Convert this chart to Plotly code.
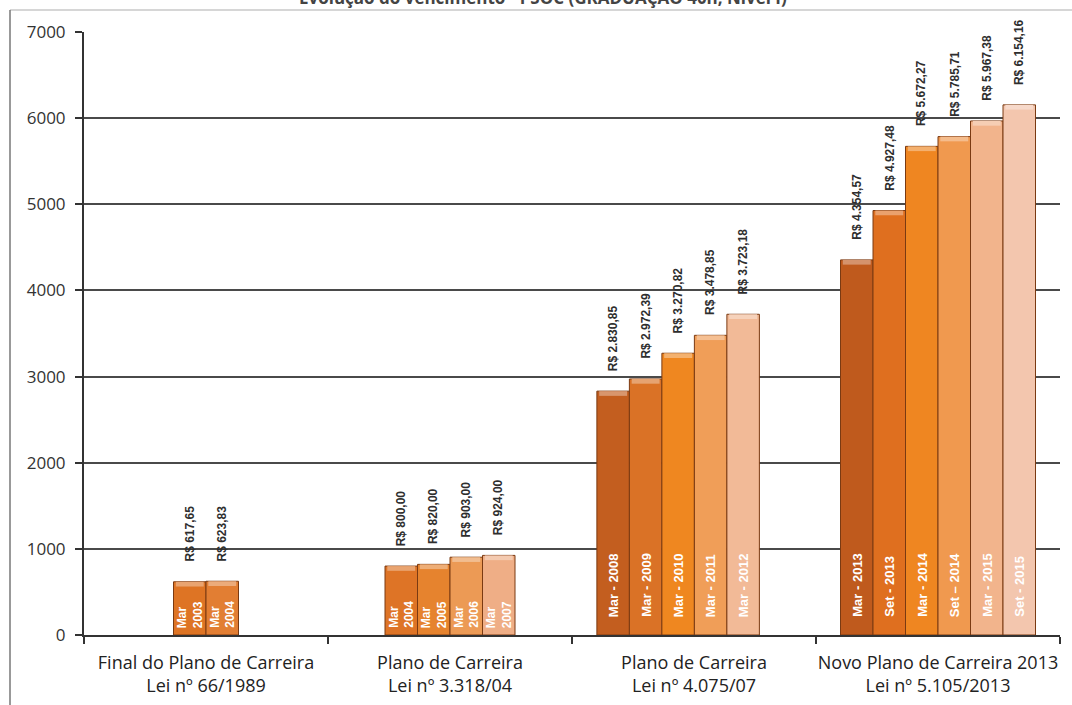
import plotly.graph_objects as go

# ---------------- data ----------------
groups = [
    "Final do Plano de Carreira<br>Lei nº 66/1989",
    "Plano de Carreira<br>Lei nº 3.318/04",
    "Plano de Carreira<br>Lei nº 4.075/07",
    "Novo Plano de Carreira 2013<br>Lei nº 5.105/2013",
]
values_g1 = [617.65, 623.83]
values_g2 = [800.00, 820.00, 903.00, 924.00]
values_g3 = [2830.85, 2972.39, 3270.82, 3478.85, 3723.18]
values_g4 = [4354.57, 4927.48, 5672.27, 5785.71, 5967.38, 6154.16]

value_labels_g1 = ["R$ 617,65", "R$ 623,83"]
value_labels_g2 = ["R$ 800,00", "R$ 820,00", "R$ 903,00", "R$ 924,00"]
value_labels_g3 = ["R$ 2.830,85", "R$ 2.972,39", "R$ 3.270,82", "R$ 3.478,85", "R$ 3.723,18"]
value_labels_g4 = ["R$ 4.354,57", "R$ 4.927,48", "R$ 5.672,27", "R$ 5.785,71", "R$ 5.967,38", "R$ 6.154,16"]

period_g1 = ["Mar<br>2003", "Mar<br>2004"]
period_g2 = ["Mar<br>2004", "Mar<br>2005", "Mar<br>2006", "Mar<br>2007"]
period_g3 = ["Mar - 2008", "Mar - 2009", "Mar - 2010", "Mar - 2011", "Mar - 2012"]
period_g4 = ["Mar - 2013", "Set - 2013", "Mar - 2014", "Set – 2014", "Mar - 2015", "Set - 2015"]

y_ticks = [0, 1000, 2000, 3000, 4000, 5000, 6000, 7000]

title_text = "Evolução do vencimento - PSOC (GRADUAÇÃO 40h, Nível I)"

# ---------------- styling ----------------
colors_g1 = ["#DE7424", "#E27E33"]
colors_g2 = ["#DE7426", "#E6832E", "#EC9A55", "#EFAE86"]
colors_g3 = ["#C35E1F", "#DA7226", "#EF8720", "#F09E58", "#F2BA97"]
colors_g4 = ["#BF5A1D", "#DF6F1F", "#EF8621", "#F0994F", "#F2B48C", "#F3C6AE"]

all_values = [values_g1, values_g2, values_g3, values_g4]
all_vlabels = [value_labels_g1, value_labels_g2, value_labels_g3, value_labels_g4]
all_periods = [period_g1, period_g2, period_g3, period_g4]
all_colors = [colors_g1, colors_g2, colors_g3, colors_g4]

bar_w = 0.1332
group_shift = [0.0, 0.0, -0.065, 0.0]


def lighten(hexc, f):
    h = hexc.lstrip("#")
    r, g, b = int(h[0:2], 16), int(h[2:4], 16), int(h[4:6], 16)
    r = int(r + (255 - r) * f)
    g = int(g + (255 - g) * f)
    b = int(b + (255 - b) * f)
    return f"#{r:02x}{g:02x}{b:02x}"


fig = go.Figure()
annotations = []

for gi, (vals, vlabs, pers, cols) in enumerate(zip(all_values, all_vlabels, all_periods, all_colors)):
    n = len(vals)
    cx = gi + 0.5 + group_shift[gi]
    xs = [cx + (j - (n - 1) / 2) * bar_w for j in range(n)]
    fig.add_trace(go.Bar(
        x=xs, y=vals, width=bar_w,
        marker=dict(color=cols, line=dict(color="#7A3A12", width=1)),
        showlegend=False, hoverinfo="skip",
    ))
    # top bevel highlight
    fig.add_trace(go.Bar(
        x=xs, y=[55] * n, base=[v - 55 for v in vals], width=bar_w * 0.86,
        marker=dict(color=[lighten(c, 0.35) for c in cols], line=dict(width=0)),
        showlegend=False, hoverinfo="skip",
    ))
    for x, v, vl, p in zip(xs, vals, vlabs, pers):
        annotations.append(dict(
            x=x, y=v, xref="x", yref="y", text=f"<b>{vl}</b>", showarrow=False,
            textangle=-90, yanchor="bottom", xanchor="center", yshift=18,
            font=dict(family="Liberation Sans, Arial", size=12, color="#2E2E2E"),
        ))
        two_line = "<br>" in p
        annotations.append(dict(
            x=x, y=0, xref="x", yref="y", text=f"<b>{p}</b>", showarrow=False,
            textangle=-90, yanchor="bottom", xanchor="center",
            yshift=5 if two_line else 16, align="left",
            font=dict(family="Liberation Sans, Arial", size=12 if two_line else 13,
                      color="#FFFFFF"),
        ))

# cropped title (as in the reference, only its lower part is visible)
annotations.append(dict(
    x=(543 - 84) / 976, xref="paper", y=1, yref="paper", text=f"<b>{title_text}</b>",
    showarrow=False, yanchor="middle", xanchor="center", yshift=35,
    font=dict(family="Open Sans, Arial", size=17, color="#444444"),
))

fig.update_layout(
    width=1072, height=705,
    margin=dict(l=84, r=12, t=32, b=70),
    paper_bgcolor="white", plot_bgcolor="white",
    barmode="overlay",
    annotations=annotations,
    xaxis=dict(
        range=[0, 4], tickmode="array", tickvals=[0.5, 1.5, 2.5, 3.5], ticktext=groups,
        ticks="", showgrid=False, zeroline=False, automargin=False,
        showline=True, linecolor="#333333", linewidth=2,
        ticklabelstandoff=10,
        tickfont=dict(family="Open Sans, Arial", size=18, color="#222222"),
        minor=dict(tickmode="array", tickvals=[0, 1, 2, 3, 4], ticks="outside",
                   ticklen=7, tickwidth=1.5, tickcolor="#333333", showgrid=False),
    ),
    yaxis=dict(
        range=[0, 7000], tickmode="array", tickvals=y_ticks, automargin=False,
        ticks="outside", ticklen=7, tickwidth=1.5, tickcolor="#333333",
        showgrid=True, gridcolor="#4A4A4A", gridwidth=1.5,
        zeroline=False, showline=True, linecolor="#333333", linewidth=2,
        ticklabelstandoff=6,
        tickfont=dict(family="Open Sans, Arial", size=17, color="#333333"),
    ),
    shapes=[
        dict(type="line", xref="paper", yref="paper",
             x0=(10 - 84) / 976, x1=(1072 - 84) / 976,
             y0=1 + (32 - 10) / 603, y1=1 + (32 - 10) / 603,
             line=dict(color="#C8C8C8", width=1.5)),
        dict(type="line", xref="paper", yref="paper",
             x0=(10 - 84) / 976, x1=(10 - 84) / 976,
             y0=1 + (32 - 10) / 603, y1=-70 / 603,
             line=dict(color="#777777", width=1.5)),
    ],
)

fig.write_html("out.html")
